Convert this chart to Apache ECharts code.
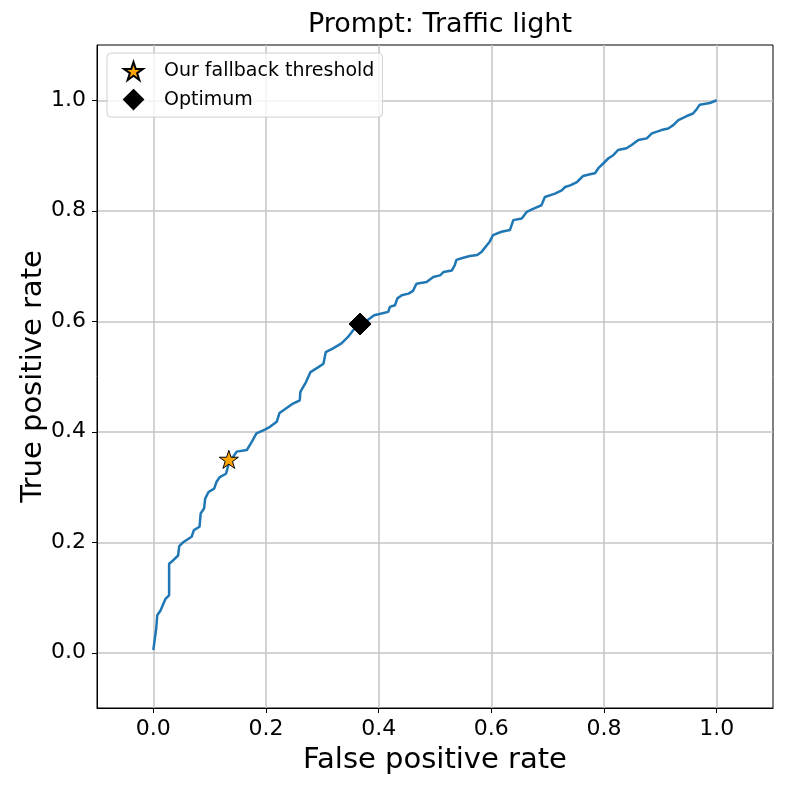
<!DOCTYPE html>
<html>
<head>
<meta charset="utf-8">
<script src="https://cdn.jsdelivr.net/npm/echarts@6/dist/echarts.min.js"></script>
<style>html,body{margin:0;padding:0;background:#fff}#c{width:789px;height:789px}</style>
</head>
<body>
<div id="c"></div>
<script>
const titleText = 'Prompt: Traffic light';
const xName = 'False positive rate';
const yName = 'True positive rate';
const tickValues = [0, 0.2, 0.4, 0.6, 0.8, 1.0];
const fpr = [0,0.003,0.005,0.007,0.013,0.018,0.022,0.028,0.028,0.035,0.044,0.046,0.053,0.068,0.072,0.082,0.084,0.090,0.092,0.098,0.108,0.112,0.118,0.129,0.133,0.140,0.148,0.166,0.175,0.183,0.198,0.207,0.219,0.224,0.248,0.260,0.261,0.271,0.279,0.293,0.302,0.306,0.319,0.334,0.346,0.355,0.367,0.380,0.392,0.405,0.417,0.420,0.429,0.433,0.441,0.453,0.461,0.467,0.485,0.497,0.509,0.515,0.530,0.535,0.538,0.547,0.562,0.575,0.583,0.597,0.603,0.618,0.633,0.639,0.654,0.663,0.675,0.689,0.695,0.713,0.725,0.731,0.740,0.752,0.757,0.763,0.775,0.784,0.790,0.799,0.808,0.817,0.825,0.840,0.849,0.861,0.876,0.885,0.902,0.914,0.923,0.932,0.946,0.958,0.964,0.970,0.988,1.0];
const tpr = [0.005,0.028,0.043,0.068,0.077,0.089,0.098,0.104,0.161,0.167,0.176,0.193,0.200,0.210,0.222,0.228,0.252,0.261,0.279,0.291,0.297,0.309,0.318,0.324,0.339,0.352,0.364,0.367,0.382,0.397,0.404,0.409,0.418,0.434,0.451,0.457,0.472,0.490,0.508,0.517,0.523,0.544,0.551,0.560,0.572,0.584,0.594,0.602,0.611,0.614,0.617,0.626,0.629,0.641,0.647,0.650,0.655,0.668,0.671,0.680,0.683,0.689,0.692,0.701,0.711,0.714,0.718,0.720,0.726,0.744,0.756,0.762,0.765,0.783,0.786,0.798,0.804,0.810,0.825,0.831,0.837,0.843,0.846,0.852,0.857,0.863,0.866,0.868,0.877,0.886,0.895,0.901,0.910,0.913,0.919,0.928,0.931,0.940,0.946,0.949,0.955,0.964,0.971,0.976,0.983,0.992,0.995,1.0];
const fallbackPoint = [0.134, 0.350];
const optimumPoint = [0.367, 0.595];
const seriesNames = ['Our fallback threshold', 'Optimum'];

const starPath = 'path://M50 0 L61.23 34.55 L97.55 34.55 L68.16 55.9 L79.39 90.45 L50 69.1 L20.61 90.45 L31.84 55.9 L2.45 34.55 L38.77 34.55 Z';
const font = 'DejaVu Sans';
const roc = fpr.map((x, i) => [x, tpr[i]]);

function axisCommon(name) {
  return {
    type: 'value', min: -0.1, max: 1.1,
    name: name, nameLocation: 'middle', nameMoveOverlap: false,
    nameTextStyle: { fontFamily: font, fontSize: 29, color: '#000' },
    axisLine: { show: true, onZero: false, lineStyle: { color: '#000', width: 1 } },
    axisTick: { show: true, inside: false, length: 5, customValues: tickValues, lineStyle: { color: '#000', width: 1 } },
    axisLabel: { customValues: tickValues, fontFamily: font, fontSize: 22, color: '#000', formatter: v => v.toFixed(1) },
    splitLine: { show: true, lineStyle: { color: '#c4c4c4', width: 1.5 } }
  };
}

const chart = echarts.init(document.getElementById('c'), null, { renderer: 'canvas' });
const xa = axisCommon(xName); xa.nameGap = 38; xa.axisLabel.margin = 10;
const ya = axisCommon(yName); ya.nameGap = 49; ya.axisLabel.margin = 11;
chart.setOption({
  animation: false,
  backgroundColor: '#fff',
  title: { text: titleText, left: 435, top: 6, textAlign: 'center',
    textStyle: { fontFamily: font, fontSize: 27, fontWeight: 'normal', color: '#000' } },
  grid: { left: 97, right: 16, top: 45, bottom: 81, show: true, borderColor: '#000', borderWidth: 1, backgroundColor: 'transparent' },
  xAxis: xa,
  yAxis: ya,
  legend: {
    orient: 'vertical', left: 107, top: 53,
    data: [{ name: seriesNames[0], icon: starPath }, { name: seriesNames[1], icon: 'diamond' }],
    itemWidth: 19, itemHeight: 19, itemGap: 8,
    padding: [8, 8, 7, 16],
    backgroundColor: 'rgba(255,255,255,0.8)', borderColor: '#d0d0d0', borderWidth: 1, borderRadius: 4,
    textStyle: { fontFamily: font, fontSize: 19, color: '#000', padding: [0, 0, 0, 16] },
    selectedMode: false
  },
  series: [
    { type: 'line', data: roc, showSymbol: false, symbol: 'none', lineStyle: { color: '#1f77b4', width: 2.5 }, z: 2, silent: true },
    { name: seriesNames[0], type: 'scatter', data: [fallbackPoint], symbol: starPath, symbolKeepAspect: true, symbolSize: 19,
      itemStyle: { color: '#ffa500', borderColor: '#000', borderWidth: 1, opacity: 1 }, z: 5 },
    { name: seriesNames[1], type: 'scatter', data: [optimumPoint], symbol: 'diamond', symbolSize: 22,
      itemStyle: { color: '#000', borderColor: '#000', borderWidth: 1, opacity: 1 }, z: 5 }
  ]
});
</script>
</body>
</html>
